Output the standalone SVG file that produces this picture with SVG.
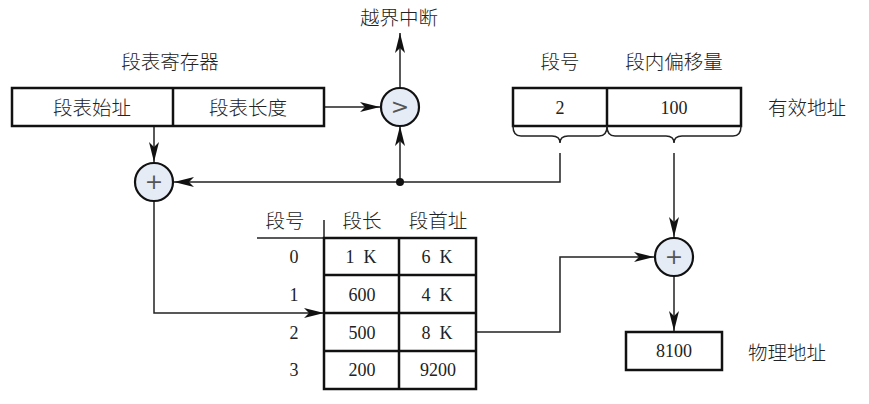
<svg xmlns="http://www.w3.org/2000/svg" width="869" height="404" viewBox="0 0 869 404">
<style>
text{font-family:"Liberation Serif","Noto Sans CJK SC",serif;font-size:18px;fill:#222;text-anchor:middle;dominant-baseline:central;white-space:pre}
.cj{font-size:19.5px;font-weight:300}
.box{fill:#fff;stroke:#111;stroke-width:2.5}
.op{fill:#e6ecf6;stroke:#111;stroke-width:2.2}
.ln{fill:none;stroke:#222;stroke-width:1.5}
.sym{font-family:"DejaVu Sans",sans-serif;font-size:22px;fill:#555}
</style>
<defs>
<marker id="ah" markerUnits="userSpaceOnUse" markerWidth="21" markerHeight="11" refX="20" refY="5.5" orient="auto">
<path d="M0,0.5 L20,5.5 L0,10.5 L5,5.5 z" fill="#111"/>
</marker>
</defs>
<g id="connectors">
<line class="ln" x1="324" y1="107" x2="380" y2="107" marker-end="url(#ah)"/>
<line class="ln" x1="400" y1="88" x2="400" y2="33" marker-end="url(#ah)"/>
<line class="ln" x1="400" y1="182" x2="400" y2="126" marker-end="url(#ah)"/>
<polyline class="ln" points="560,153 560,182 174,182" marker-end="url(#ah)"/>
<circle cx="400" cy="182" r="4" fill="#111"/>
<line class="ln" x1="154" y1="116" x2="154" y2="162" marker-end="url(#ah)"/>
<polyline class="ln" points="154,201 154,313 324,313" marker-end="url(#ah)"/>
<line class="ln" x1="674" y1="153" x2="674" y2="237" marker-end="url(#ah)"/>
<polyline class="ln" points="476,332 560,332 560,257 654,257" marker-end="url(#ah)"/>
<line class="ln" x1="674" y1="276" x2="674" y2="331" marker-end="url(#ah)"/>
</g>
<g id="register">
<text class="cj" x="170" y="62">段表寄存器</text>
<rect class="box" x="12" y="88" width="312" height="38"/>
<line class="box" x1="173" y1="88" x2="173" y2="126"/>
<text class="cj" x="92" y="108">段表始址</text>
<text class="cj" x="248" y="108">段表长度</text>
</g>
<g id="compare">
<circle class="op" cx="400" cy="107" r="19"/>
<text class="sym" x="400" y="106">&gt;</text>
<text class="cj" x="399" y="18">越界中断</text>
</g>
<g id="add1">
<circle class="op" cx="154" cy="182" r="19"/>
<text class="sym" x="154" y="181">+</text>
</g>
<g id="logical">
<text class="cj" x="560" y="62">段号</text>
<text class="cj" x="674" y="62">段内偏移量</text>
<rect class="box" x="513" y="88" width="228" height="38"/>
<line class="box" x1="607" y1="88" x2="607" y2="126"/>
<text x="560" y="108">2</text>
<text x="674" y="108">100</text>
<text class="cj" x="807" y="108">有效地址</text>
<path class="ln" d="M513,126 Q513,136 521,136 L552,136 Q560,136 560,143 Q560,136 568,136 L599,136 Q607,136 607,126"/>
<path class="ln" d="M607,126 Q607,136 615,136 L666,136 Q674,136 674,143 Q674,136 682,136 L733,136 Q741,136 741,126"/>
</g>
<g id="table">
<text class="cj" x="285" y="221">段号</text>
<text class="cj" x="362" y="221">段长</text>
<text class="cj" x="438" y="221">段首址</text>
<line class="ln" x1="257" y1="238" x2="324" y2="238"/>
<line class="ln" x1="324" y1="220" x2="324" y2="238"/>
<rect class="box" x="324" y="238" width="152" height="151"/>
<line class="box" x1="399" y1="238" x2="399" y2="389"/>
<line class="box" x1="324" y1="275" x2="476" y2="275"/>
<line class="box" x1="324" y1="313" x2="476" y2="313"/>
<line class="box" x1="324" y1="351" x2="476" y2="351"/>
<text x="294" y="257">0</text>
<text x="294" y="295">1</text>
<text x="294" y="333">2</text>
<text x="294" y="370">3</text>
<text x="361" y="257">1  K</text>
<text x="362" y="295">600</text>
<text x="362" y="333">500</text>
<text x="362" y="370">200</text>
<text x="437" y="257">6  K</text>
<text x="437" y="295">4  K</text>
<text x="437" y="333">8  K</text>
<text x="438" y="370">9200</text>
</g>
<g id="add2">
<circle class="op" cx="674" cy="257" r="19"/>
<text class="sym" x="674" y="256">+</text>
</g>
<g id="physical">
<rect class="box" x="626" y="332" width="96" height="38"/>
<text x="674" y="351">8100</text>
<text class="cj" x="787" y="353">物理地址</text>
</g>
</svg>
